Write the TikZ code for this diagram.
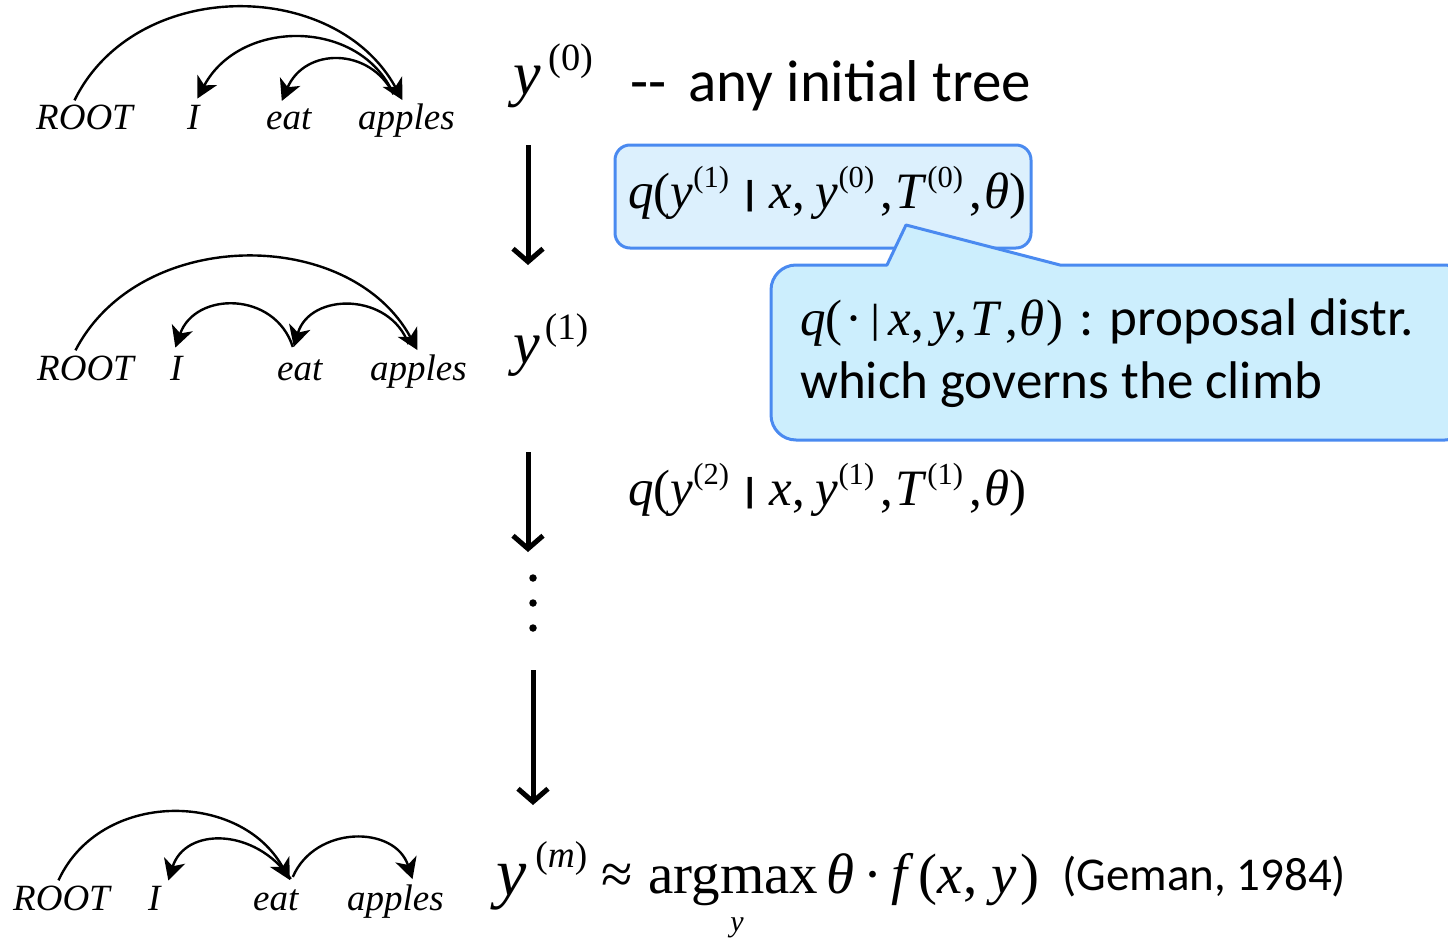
\documentclass[tikz,border=0pt]{standalone}
\usepackage{fontspec}
\setmainfont{Carlito}
\newfontfamily\tms{Liberation Serif}
\usetikzlibrary{arrows.meta,calc}
\definecolor{bordblue}{RGB}{74,138,240}
\definecolor{fillA}{RGB}{220,240,253}
\definecolor{fillB}{RGB}{204,238,253}
\newcommand{\SU}[2][0.6]{\raisebox{0.40em}{\scalebox{#1}{#2}}}
\newcommand{\vb}{\raisebox{0.06em}{\scalebox{1.2}[0.68]{\textbf{|}}}}
\newcommand{\vbt}{\raisebox{0.04em}{\scalebox{1}[0.8]{|}}}
\begin{document}
\begin{tikzpicture}[x=1pt,y=-1pt,
  treeword/.style={anchor=base west, inner sep=0pt, font=\tms\itshape\fontsize{37}{44}\selectfont},
  dep/.style={line width=2.4pt, -{Stealth[length=21pt,width=22pt,inset=6pt]}},
  flow/.style={line width=5pt, -{Straight Barb[length=13pt,width=30pt]}},
  mathtxt/.style={anchor=base west, inner sep=0pt},
  qbox/.style={draw=bordblue, line width=3pt, fill=fillA, rounded corners=15pt, minimum width=416pt, minimum height=103pt, inner sep=0pt},
  callout/.style={draw=bordblue, line width=3pt, fill=fillB, line join=round},
  dot/.style={circle, fill=black, inner sep=0pt, minimum size=7.5pt}
]
\useasboundingbox (0,0) rectangle (1448,942);
\clip (0,0) rectangle (1448,942);

% ---------- tree 1 ----------
\node[treeword] (R1) at (36,129) {ROOT};
\node[treeword] (I1) at (187,129) {I};
\node[treeword] (E1) at (266,129) {eat};
\node[treeword] (A1) at (358,129) {apples};
\draw[dep] ($(R1.north)+(-10,-4)$) .. controls (135,-23) and (335,-23) .. ($(A1.north)+(-4,-3)$);
\draw[dep] ($(A1.north)+(-13,-9)$) .. controls (360,18) and (240,18) .. ($(I1.north)+(4,-6)$);
\draw[dep] ($(A1.north)+(-13,-9)$) .. controls (370,47) and (305,47) .. ($(E1.north)+(-7,-7)$);

% ---------- tree 2 ----------
\node[treeword] (R2) at (37,380) {ROOT};
\node[treeword] (I2) at (170,380) {I};
\node[treeword] (E2) at (277,380) {eat};
\node[treeword] (A2) at (370,380) {apples};
\draw[dep] ($(R2.north)+(-10,-5)$) .. controls (140,226) and (350,226) .. ($(A2.north)+(-1,-4)$);
\draw[dep] ($(E2.north)+(-7,-12)$) .. controls (275,291) and (195,291) .. ($(I2.north)+(-1,-8)$);
\draw[dep] ($(A2.north)+(-10,-10)$) .. controls (390,292) and (310,292) .. ($(E2.north)+(-6,-12)$);

% ---------- tree 3 ----------
\node[treeword] (R3) at (13,910) {ROOT};
\node[treeword] (I3) at (148,910) {I};
\node[treeword] (E3) at (253,910) {eat};
\node[treeword] (A3) at (347,910) {apples};
\draw[dep] ($(R3.north)+(-3,-5)$) .. controls (100,790) and (240,790) .. ($(E3.north)+(14,-9)$);
\draw[dep] ($(E3.north)+(15,-10)$) .. controls (255,827) and (185,827) .. ($(I3.north)+(14,-5)$);
\draw[dep] ($(E3.north)+(17,-12)$) .. controls (315,825) and (395,825) .. ($(A3.north)+(17,-5)$);

% ---------- centre column ----------
\node[mathtxt, font=\tms\fontsize{62}{70}\selectfont] (Y0) at (513,95) {\textit{y}\hspace{8pt}\SU[0.62]{(0)}};
\node[mathtxt, font=\fontsize{59}{66}\selectfont] (T0) at (630,101) {-{}-\hspace{22pt}any initial tree};
\node[mathtxt, font=\tms\fontsize{60}{70}\selectfont] (Y1) at (513,363) {\textit{y}\hspace{5pt}\SU[0.62]{(1)}};
\node[mathtxt, font=\tms\fontsize{68}{76}\selectfont] (YM) at (496,895) {\textit{y}\hspace{9pt}\SU[0.55]{(\textit{m})}};
\node[mathtxt, font=\tms\fontsize{57}{66}\selectfont] (ARG) at (601,893) {≈\hspace{16pt}argmax\hspace{8pt}\textit{θ}\hspace{9pt}·\hspace{9pt}\textit{f}\hspace{5pt}(\textit{x},\hspace{14pt}\textit{y}\hspace{4pt})};
\node[font=\tms\itshape\fontsize{30}{36}\selectfont, inner sep=0pt] (SUBY) at (737,928) {y};
\node[mathtxt, font=\fontsize{47}{56}\selectfont] (GEM) at (1062,890) {(Geman, 1984)};

\coordinate (a1s) at (528,145); \coordinate (a1e) at (528,265);
\coordinate (a2s) at (528,452); \coordinate (a2e) at (528,552);
\coordinate (a3s) at (533,670); \coordinate (a3e) at (533,805);
\draw[flow] (a1s) -- (a1e);
\draw[flow] (a2s) -- (a2e);
\draw[flow] (a3s) -- (a3e);
\node[dot] (d1) at (533,578) {};
\node[dot] (d2) at (533,603) {};
\node[dot] (d3) at (533,628) {};

% ---------- proposal formulas ----------
\node[qbox] (B1) at (823,196.5) {};
\node[mathtxt, font=\tms\fontsize{51}{60}\selectfont] (Q1) at (628,208) {\textit{q}(\textit{y}\SU{(1)}\hspace{14pt}\vb\hspace{13pt}\textit{x},\hspace{11pt}\textit{y}\SU{(0)}\hspace{6pt},\hspace{3pt}\textit{T}\SU{(0)}\hspace{6pt},\hspace{3pt}\textit{θ})};
\node[mathtxt, font=\tms\fontsize{51}{60}\selectfont] (Q2) at (628,505) {\textit{q}(\textit{y}\SU{(2)}\hspace{14pt}\vb\hspace{13pt}\textit{x},\hspace{11pt}\textit{y}\SU{(1)}\hspace{6pt},\hspace{3pt}\textit{T}\SU{(1)}\hspace{6pt},\hspace{3pt}\textit{θ})};

% ---------- callout ----------
\draw[callout] (906,225) -- (1060,265) [rounded corners=25pt] -- (1470,265) -- (1470,440) -- (771,440) -- (771,265) [sharp corners] -- (887,265) -- cycle;
\node[mathtxt, font=\fontsize{53}{63}\selectfont] (C1) at (800,335) {{\tms\fontsize{51}{60}\selectfont\textit{q}(\hspace{3pt}·\hspace{8pt}\vbt\hspace{8pt}\textit{x},\hspace{8pt}\textit{y},\hspace{3pt}\textit{T}\hspace{3pt},\hspace{2pt}\textit{θ}\hspace{2pt})}\hspace{16pt}: proposal distr.};
\node[mathtxt, font=\fontsize{53}{63}\selectfont] (C2) at (800,398) {which governs the climb};
\end{tikzpicture}
\end{document}
